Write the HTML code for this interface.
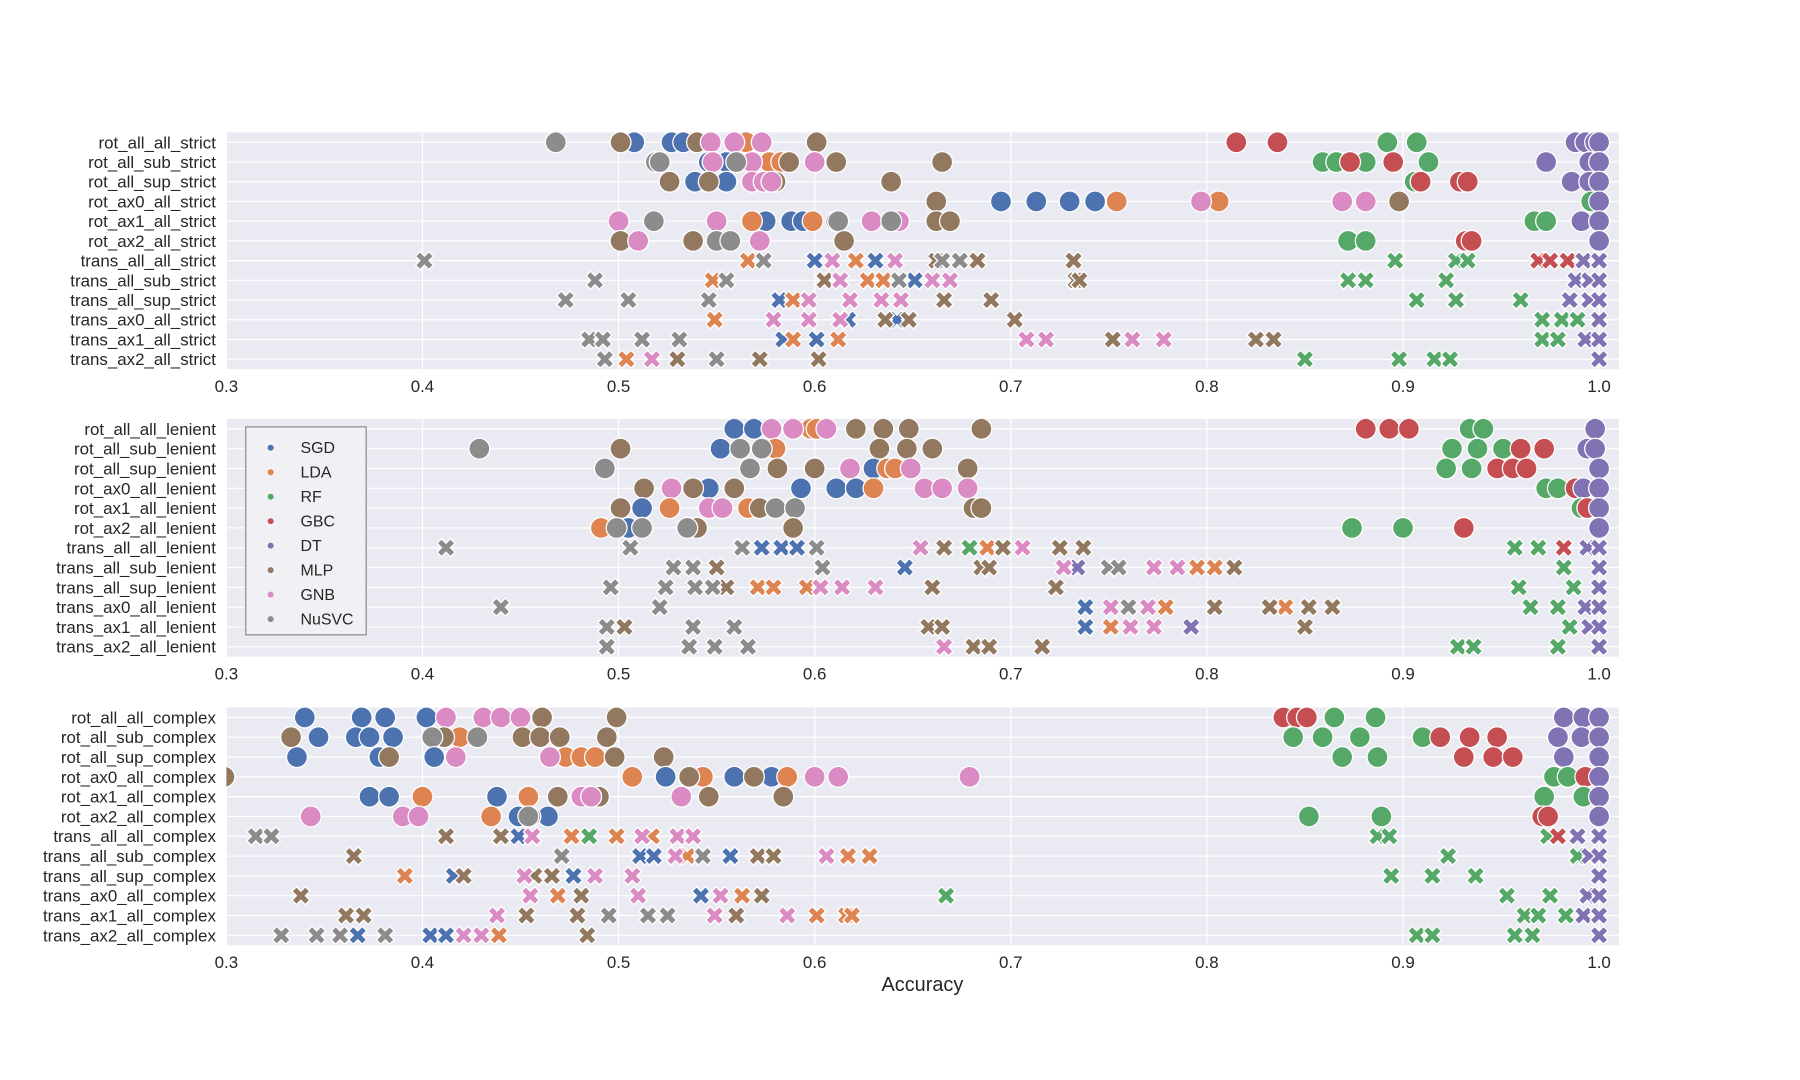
<!DOCTYPE html>
<html>
<head>
<meta charset="utf-8">
<style>
html,body{margin:0;padding:0;background:#fff;}
svg{display:block;}
text{font-family:"Liberation Sans",Arial,sans-serif;fill:#262626;}
</style>
</head>
<body>
<svg id="chart" width="1800" height="1080" viewBox="0 0 1809 1085.4" preserveAspectRatio="xMinYMin meet" xmlns="http://www.w3.org/2000/svg"></svg>
<script>
const classifiers = ['SGD','LDA','RF','GBC','DT','MLP','GNB','NuSVC'];
const colors = ['#4c72b0','#dd8452','#55a868','#c44e52','#8172b3','#937860','#da8bc3','#8c8c8c'];
const xTicks = [0.3,0.4,0.5,0.6,0.7,0.8,0.9,1.0];
const xTickLabels = ['0.3','0.4','0.5','0.6','0.7','0.8','0.9','1.0'];

const strictRows = ['rot_all_all_strict','rot_all_sub_strict','rot_all_sup_strict','rot_ax0_all_strict','rot_ax1_all_strict','rot_ax2_all_strict','trans_all_all_strict','trans_all_sub_strict','trans_all_sup_strict','trans_ax0_all_strict','trans_ax1_all_strict','trans_ax2_all_strict'];
const lenientRows = ['rot_all_all_lenient','rot_all_sub_lenient','rot_all_sup_lenient','rot_ax0_all_lenient','rot_ax1_all_lenient','rot_ax2_all_lenient','trans_all_all_lenient','trans_all_sub_lenient','trans_all_sup_lenient','trans_ax0_all_lenient','trans_ax1_all_lenient','trans_ax2_all_lenient'];
const complexRows = ['rot_all_all_complex','rot_all_sub_complex','rot_all_sup_complex','rot_ax0_all_complex','rot_ax1_all_complex','rot_ax2_all_complex','trans_all_all_complex','trans_all_sub_complex','trans_all_sup_complex','trans_ax0_all_complex','trans_ax1_all_complex','trans_ax2_all_complex'];

const strictValues = [
 {SGD:[0.508,0.527,0.533],LDA:[0.565],RF:[0.892,0.907],GBC:[0.815,0.836],DT:[0.988,0.993,0.998,1.0],MLP:[0.501,0.540,0.601],GNB:[0.547,0.559,0.573],NuSVC:[0.468]},
 {SGD:[0.546,0.555],LDA:[0.577,0.583],RF:[0.859,0.866,0.881,0.913],GBC:[0.873,0.895],DT:[0.973,0.995,1.0],MLP:[0.587,0.611,0.665],GNB:[0.548,0.568,0.600],NuSVC:[0.519,0.521,0.560]},
 {SGD:[0.539,0.555],LDA:[],RF:[0.906],GBC:[0.909,0.929,0.933],DT:[0.986,0.995,1.0],MLP:[0.526,0.546,0.580,0.639],GNB:[0.568,0.574,0.578],NuSVC:[]},
 {SGD:[0.695,0.713,0.730,0.743],LDA:[0.754,0.806],RF:[0.996],GBC:[],DT:[1.0],MLP:[0.662,0.898],GNB:[0.797,0.869,0.881],NuSVC:[]},
 {SGD:[0.575,0.588,0.594],LDA:[0.568,0.599],RF:[0.967,0.973],GBC:[],DT:[0.991,1.0],MLP:[0.662,0.669],GNB:[0.500,0.550,0.629,0.643],NuSVC:[0.518,0.611,0.612,0.639]},
 {SGD:[],LDA:[],RF:[0.872,0.881],GBC:[0.932,0.935],DT:[1.0],MLP:[0.501,0.538,0.615],GNB:[0.510,0.572],NuSVC:[0.550,0.557]},
 {SGD:[0.600,0.631],LDA:[0.566,0.621],RF:[0.896,0.927,0.933],GBC:[0.969,0.975,0.984],DT:[0.992,1.0],MLP:[0.662,0.683,0.732],GNB:[0.609,0.641],NuSVC:[0.401,0.574,0.665,0.674]},
 {SGD:[0.651],LDA:[0.548,0.627,0.635],RF:[0.872,0.881,0.922],GBC:[],DT:[0.988,0.995,1.0],MLP:[0.605,0.733,0.735],GNB:[0.613,0.660,0.669],NuSVC:[0.488,0.555,0.643]},
 {SGD:[0.582],LDA:[0.589],RF:[0.907,0.927,0.960],GBC:[],DT:[0.985,0.995,1.0],MLP:[0.666,0.690],GNB:[0.597,0.618,0.634,0.644],NuSVC:[0.473,0.505,0.546]},
 {SGD:[0.617,0.642],LDA:[0.549],RF:[0.971,0.981,0.989],GBC:[],DT:[1.0],MLP:[0.636,0.648,0.702],GNB:[0.579,0.597,0.613],NuSVC:[]},
 {SGD:[0.584,0.601],LDA:[0.589,0.612],RF:[0.971,0.979],GBC:[],DT:[0.993,1.0],MLP:[0.752,0.825,0.834],GNB:[0.708,0.718,0.762,0.778],NuSVC:[0.485,0.492,0.512,0.531]},
 {SGD:[],LDA:[0.504],RF:[0.850,0.898,0.916,0.924],GBC:[],DT:[1.0],MLP:[0.530,0.572,0.602],GNB:[0.517],NuSVC:[0.493,0.550]}
];
const lenientValues = [
 {SGD:[0.559,0.569],LDA:[0.598,0.601],RF:[0.934,0.941],GBC:[0.881,0.893,0.903],DT:[0.998],MLP:[0.621,0.635,0.648,0.685],GNB:[0.578,0.589,0.606],NuSVC:[]},
 {SGD:[0.552],LDA:[0.580],RF:[0.925,0.938,0.951],GBC:[0.960,0.972],DT:[0.994,0.998],MLP:[0.501,0.633,0.647,0.660],GNB:[],NuSVC:[0.429,0.562,0.573]},
 {SGD:[0.630],LDA:[0.637,0.641],RF:[0.922,0.935],GBC:[0.948,0.956,0.963],DT:[1.0],MLP:[0.581,0.600,0.678],GNB:[0.618,0.649],NuSVC:[0.493,0.567]},
 {SGD:[0.546,0.593,0.611,0.621],LDA:[0.630],RF:[0.973,0.979],GBC:[0.988],DT:[0.992,1.0],MLP:[0.513,0.538,0.559],GNB:[0.527,0.656,0.665,0.678],NuSVC:[]},
 {SGD:[0.512],LDA:[0.526,0.566],RF:[0.991],GBC:[0.994],DT:[1.0],MLP:[0.501,0.572,0.681,0.685],GNB:[0.546,0.553],NuSVC:[0.580,0.590]},
 {SGD:[0.505],LDA:[0.491],RF:[0.874,0.900],GBC:[0.931],DT:[1.0],MLP:[0.540,0.589],GNB:[],NuSVC:[0.499,0.512,0.535]},
 {SGD:[0.573,0.583,0.591],LDA:[0.688],RF:[0.679,0.957,0.969],GBC:[0.982],DT:[0.994,1.0],MLP:[0.666,0.696,0.725,0.737],GNB:[0.654,0.706],NuSVC:[0.412,0.506,0.563,0.601]},
 {SGD:[0.646],LDA:[0.795,0.804],RF:[0.982],GBC:[],DT:[0.734,1.0],MLP:[0.550,0.685,0.689,0.814],GNB:[0.727,0.773,0.785],NuSVC:[0.528,0.538,0.604,0.750,0.755]},
 {SGD:[],LDA:[0.571,0.579,0.596],RF:[0.959,0.987],GBC:[],DT:[1.0],MLP:[0.555,0.660,0.723],GNB:[0.603,0.614,0.631],NuSVC:[0.496,0.524,0.539,0.548]},
 {SGD:[0.738],LDA:[0.779,0.840],RF:[0.965,0.979],GBC:[],DT:[0.993,1.0],MLP:[0.804,0.832,0.852,0.864],GNB:[0.751,0.770],NuSVC:[0.440,0.521,0.760]},
 {SGD:[0.738],LDA:[0.751],RF:[0.985],GBC:[],DT:[0.792,0.995,1.0],MLP:[0.503,0.658,0.665,0.850],GNB:[0.761,0.773],NuSVC:[0.494,0.538,0.559]},
 {SGD:[],LDA:[],RF:[0.928,0.936,0.979],GBC:[],DT:[1.0],MLP:[0.681,0.689,0.716],GNB:[0.666],NuSVC:[0.494,0.536,0.549,0.566]}
];
const complexValues = [
 {SGD:[0.340,0.369,0.381,0.402],LDA:[],RF:[0.865,0.886],GBC:[0.839,0.846,0.851],DT:[0.982,0.992,1.0],MLP:[0.461,0.499],GNB:[0.412,0.431,0.440,0.450],NuSVC:[]},
 {SGD:[0.347,0.366,0.373,0.385],LDA:[0.419],RF:[0.844,0.859,0.878,0.910],GBC:[0.919,0.934,0.948],DT:[0.979,0.991,1.0],MLP:[0.333,0.411,0.451,0.460,0.470,0.494],GNB:[],NuSVC:[0.405,0.428]},
 {SGD:[0.336,0.378,0.406],LDA:[0.473,0.481,0.488],RF:[0.869,0.887],GBC:[0.931,0.946,0.956],DT:[0.982,1.0],MLP:[0.383,0.498,0.523],GNB:[0.417,0.465],NuSVC:[]},
 {SGD:[0.524,0.559,0.578],LDA:[0.507,0.543,0.586],RF:[0.977,0.984],GBC:[0.993],DT:[1.0],MLP:[0.299,0.536,0.569],GNB:[0.600,0.612,0.679],NuSVC:[]},
 {SGD:[0.373,0.383,0.438],LDA:[0.400,0.454],RF:[0.972,0.992],GBC:[],DT:[1.0],MLP:[0.469,0.490,0.546,0.584],GNB:[0.481,0.486,0.532],NuSVC:[]},
 {SGD:[0.449,0.464],LDA:[0.435],RF:[0.852,0.889],GBC:[0.971,0.974],DT:[1.0],MLP:[0.455],GNB:[0.343,0.390,0.398],NuSVC:[0.454]},
 {SGD:[0.449],LDA:[0.476,0.499,0.517],RF:[0.485,0.887,0.893,0.974],GBC:[0.979],DT:[0.989,1.0],MLP:[0.412,0.440],GNB:[0.456,0.512,0.530,0.538],NuSVC:[0.315,0.323]},
 {SGD:[0.511,0.518,0.557],LDA:[0.535,0.617,0.628],RF:[0.923,0.989],GBC:[],DT:[0.995,1.0],MLP:[0.365,0.571,0.579],GNB:[0.529,0.606],NuSVC:[0.471,0.543]},
 {SGD:[0.416,0.477],LDA:[0.391],RF:[0.894,0.915,0.937],GBC:[],DT:[1.0],MLP:[0.421,0.457,0.466],GNB:[0.452,0.488,0.507],NuSVC:[]},
 {SGD:[0.542],LDA:[0.469,0.563],RF:[0.667,0.953,0.975],GBC:[],DT:[0.994,1.0],MLP:[0.338,0.481,0.573],GNB:[0.455,0.510,0.552],NuSVC:[]},
 {SGD:[],LDA:[0.601,0.616,0.619],RF:[0.962,0.969,0.983],GBC:[],DT:[0.992,1.0],MLP:[0.361,0.370,0.453,0.479,0.560],GNB:[0.438,0.549,0.586],NuSVC:[0.495,0.515,0.525]},
 {SGD:[0.367,0.404,0.412],LDA:[0.439],RF:[0.907,0.915,0.957,0.966],GBC:[],DT:[1.0],MLP:[0.484],GNB:[0.421,0.430],NuSVC:[0.328,0.346,0.358,0.381]}
];

const NS='http://www.w3.org/2000/svg';
const svg=document.getElementById('chart');
const X0=227.5, X1=1627, XMIN=0.3, XMAX=1.0101;
function xScale(v){return X0+(v-XMIN)/(XMAX-XMIN)*(X1-X0);}
function mk(tag,attrs,parent){const e=document.createElementNS(NS,tag);for(const k in attrs)e.setAttribute(k,attrs[k]);(parent||svg).appendChild(e);return e;}

function xPath(cx,cy){
  const L=9.5,a=3.2,c=Math.SQRT1_2;
  const pts=[[a,L],[a,a],[L,a],[L,-a],[a,-a],[a,-L],[-a,-L],[-a,-a],[-L,-a],[-L,a],[-a,a],[-a,L]];
  return pts.map(p=>((cx+(p[0]-p[1])*c).toFixed(2))+','+((cy+(p[0]+p[1])*c).toFixed(2))).join(' ');
}

const panels=[
 {name:'strict-panel',rows:strictRows,vals:strictValues,top:133,bottom:371},
 {name:'lenient-panel',rows:lenientRows,vals:lenientValues,top:421,bottom:660},
 {name:'complex-panel',rows:complexRows,vals:complexValues,top:711,bottom:950}
];

panels.forEach(p=>{
  const g=mk('g',{});
  
  
  const bg=mk('rect',{x:X0,y:p.top,width:X1-X0,height:p.bottom-p.top,fill:'#eaeaf2'},g);
  
  
  const n=p.rows.length;
  const yStep=(p.bottom-p.top-20)/(n-1);
  function yScale(i){return p.top+10+i*yStep;}
  xTicks.forEach((t,i)=>{
    const gl=mk('line',{x1:xScale(t),x2:xScale(t),y1:p.top,y2:p.bottom,stroke:'#fff','stroke-width':1.2},g);
    
    
    const tl=mk('text',{x:xScale(t),y:p.bottom+23,'text-anchor':'middle','font-size':17},g);
    tl.textContent=xTickLabels[i];
    
    
  });
  p.rows.forEach((r,i)=>{
    const y=yScale(i);
    const gl=mk('line',{x1:X0,x2:X1,y1:y,y2:y,stroke:'#fff','stroke-width':1.2},g);
    
    
    const tl=mk('text',{x:217,y:y+6,'text-anchor':'end','font-size':17},g);
    tl.textContent=r;
    
    
  });
  const clip=mk('clipPath',{id:'clip-'+p.name},g);
  mk('rect',{x:X0,y:p.top,width:X1-X0,height:p.bottom-p.top},clip);
  const mg=mk('g',{'clip-path':'url(#clip-'+p.name+')'},g);
  p.rows.forEach((r,i)=>{
    const y=yScale(i);
    const isX=r.indexOf('trans')===0;
    classifiers.forEach((c,ci)=>{
      (p.vals[i][c]||[]).forEach(v=>{
        const cx=xScale(v);
        let m;
        if(isX){m=mk('polygon',{points:xPath(cx,y),fill:colors[ci],stroke:'#fff','stroke-width':1.3},mg);}
        else{m=mk('circle',{cx:cx,cy:y,r:10.5,fill:colors[ci],stroke:'#fff','stroke-width':1.3},mg);}
        
        
      });
    });
  });
});

const xl=mk('text',{x:927,y:996,'text-anchor':'middle','font-size':20});
xl.textContent='Accuracy';



const lg=mk('g',{});


mk('rect',{x:247,y:429,width:121,height:209,fill:'#f1f1f5',stroke:'#8a8a8a','stroke-width':1.2},lg);
classifiers.forEach((c,i)=>{
  const y=450+i*24.6;
  const d=mk('circle',{cx:272,cy:y,r:3,fill:colors[i]},lg);
  
  
  const t=mk('text',{x:302,y:y+5.5,'font-size':16},lg);
  t.textContent=c;
  
  
});
</script>
</body>
</html>
